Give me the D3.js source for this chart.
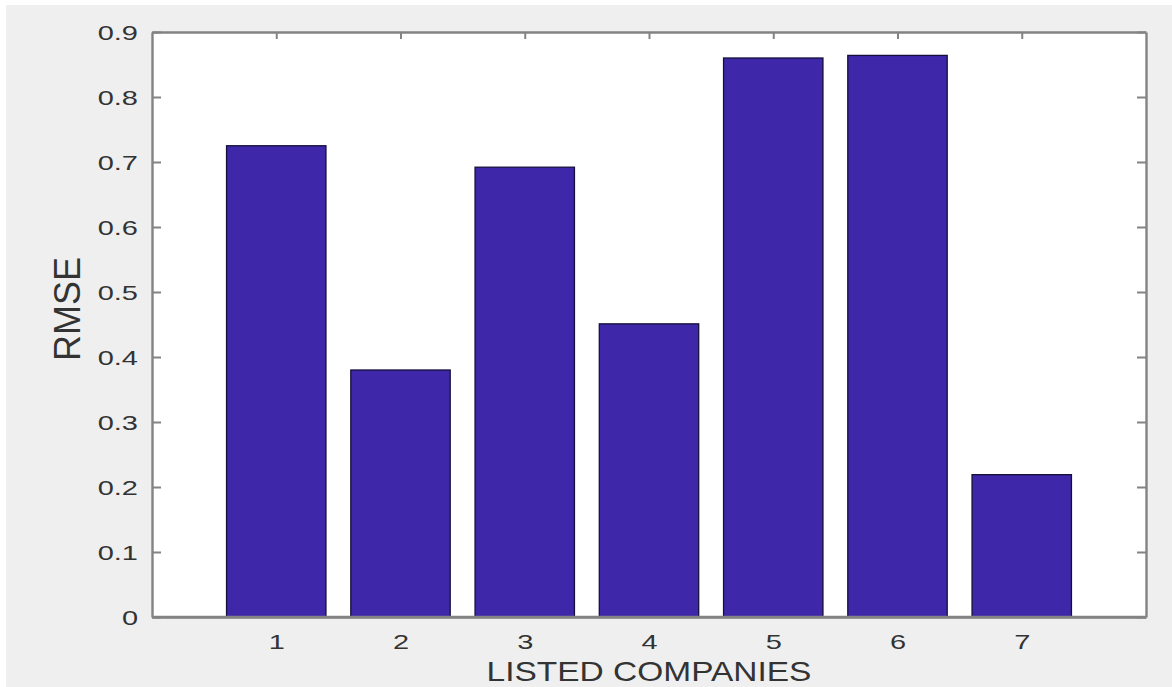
<!DOCTYPE html>
<html>
<head>
<meta charset="utf-8">
<script src="https://cdn.jsdelivr.net/npm/d3@7"></script>
<style>
  html, body { margin: 0; padding: 0; background: #ffffff; }
  svg { display: block; }
  text { font-family: "Liberation Sans", Arial, Helvetica, sans-serif; fill: #333333; }
</style>
</head>
<body>
<svg id="chart" width="1172" height="687"></svg>
<script>
// RMSE per listed company
const companies = [1, 2, 3, 4, 5, 6, 7];
const rmse = [0.725, 0.380, 0.692, 0.451, 0.860, 0.864, 0.219];
const yTicks = [0, 0.1, 0.2, 0.3, 0.4, 0.5, 0.6, 0.7, 0.8, 0.9];
const yTickLabels = ["0", "0.1", "0.2", "0.3", "0.4", "0.5", "0.6", "0.7", "0.8", "0.9"];
const xLabel = "LISTED COMPANIES";
const yLabel = "RMSE";

const W = 1172, H = 687;
const plot = { left: 152, right: 1146, top: 32, bottom: 617 };

const svg = d3.select("#chart");

// figure background
svg.append("rect")
  .attr("x", 6).attr("y", 5)
  .attr("width", W - 6).attr("height", H - 5)
  .attr("fill", "#efefef");

// axes area
svg.append("rect")
  .attr("x", plot.left).attr("y", plot.top)
  .attr("width", plot.right - plot.left).attr("height", plot.bottom - plot.top)
  .attr("fill", "#ffffff");

const x = d3.scaleLinear().domain([0, 8]).range([plot.left, plot.right]);
const y = d3.scaleLinear().domain([0, 0.9]).range([plot.bottom, plot.top]);
const step = x(1) - x(0);
const barW = step * 0.8;

const tickLen = 9;
const axisColor = "#838383";

// bottom axis first, so the bars cover its inner ticks
const gb = svg.append("g").attr("transform", `translate(0,${plot.bottom})`)
  .call(d3.axisBottom(x).tickValues(companies).tickFormat(d3.format("d"))
    .tickSizeInner(-tickLen).tickSizeOuter(0).tickPadding(0));

// bars
svg.append("g").selectAll("rect")
  .data(companies)
  .join("rect")
  .attr("x", (d) => x(d) - barW / 2)
  .attr("width", barW)
  .attr("y", (d, i) => y(rmse[i]))
  .attr("height", (d, i) => y(0) - y(rmse[i]))
  .attr("fill", "#3e27a8")
  .attr("stroke", "#14103a")
  .attr("stroke-width", 1.3);

// left axis with inward ticks
const gl = svg.append("g").attr("transform", `translate(${plot.left},0)`)
  .call(d3.axisLeft(y)
    .tickValues(yTicks)
    .tickFormat((d, i) => yTickLabels[i])
    .tickSizeInner(-tickLen)
    .tickSizeOuter(0)
    .tickPadding(0));

// right axis (mirrored ticks, no labels)
const gr = svg.append("g").attr("transform", `translate(${plot.right},0)`)
  .call(d3.axisRight(y).tickValues(yTicks).tickFormat("").tickSizeInner(-tickLen).tickSizeOuter(0));

// top axis (mirrored ticks)
const gt = svg.append("g").attr("transform", `translate(0,${plot.top})`)
  .call(d3.axisTop(x).tickValues(companies).tickFormat("").tickSizeInner(-7).tickSizeOuter(0));

[gl, gr, gb, gt].forEach((g) => {
  g.select(".domain").attr("stroke", axisColor).attr("stroke-width", 2.4);
  g.selectAll(".tick line").attr("stroke", axisColor).attr("stroke-width", 2);
});

// redraw the bottom axis line above the bars
svg.append("line")
  .attr("x1", plot.left).attr("x2", plot.right)
  .attr("y1", plot.bottom).attr("y2", plot.bottom)
  .attr("stroke", axisColor).attr("stroke-width", 2.4);

// tick label styling (wide glyphs)
gl.selectAll(".tick text")
  .attr("font-size", 20)
  .attr("text-anchor", "end")
  .attr("dy", "0.35em")
  .attr("x", 0)
  .attr("transform", "translate(-14,0) scale(1.45,1)")
  .attr("fill", "#333333");

gb.selectAll(".tick text")
  .attr("font-size", 20)
  .attr("text-anchor", "middle")
  .attr("y", 0)
  .attr("dy", 0)
  .attr("transform", "translate(0,32) scale(1.45,1)")
  .attr("fill", "#333333");

// axis titles
svg.append("text")
  .attr("text-anchor", "middle")
  .attr("font-size", 27)
  .attr("transform", `translate(${(plot.left + plot.right) / 2},681) scale(1.24,1)`)
  .text(xLabel);

svg.append("text")
  .attr("text-anchor", "middle")
  .attr("font-size", 36)
  .attr("transform", `translate(80,309) rotate(-90)`)
  .text(yLabel);
</script>
</body>
</html>
